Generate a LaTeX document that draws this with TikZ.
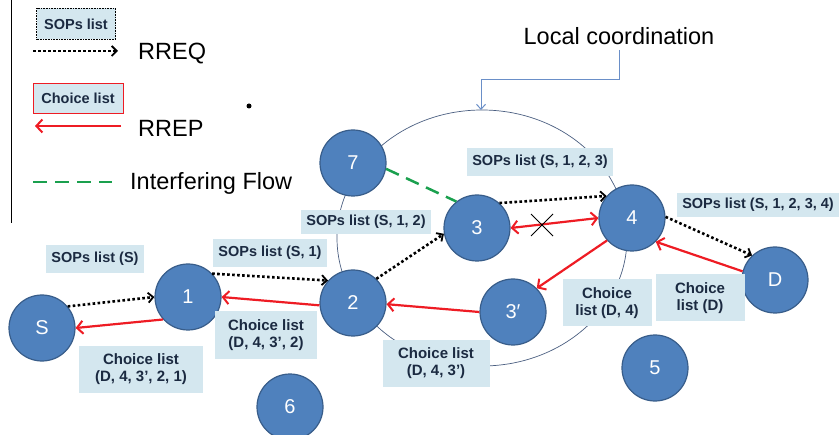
\documentclass[tikz,border=0pt]{standalone}
\usepackage{fontspec}
\setmainfont{Liberation Sans}
\usepackage{tikz}
\usetikzlibrary{positioning, arrows.meta}

\definecolor{nodeblue}{HTML}{4F81BD}
\definecolor{nodeedge}{HTML}{385D8A}
\definecolor{boxblue}{HTML}{D4E7EF}
\definecolor{boxtxt}{HTML}{1B2A41}
\definecolor{ringcol}{HTML}{4A5E80}
\definecolor{lcblue}{HTML}{6A8FC8}
\definecolor{rred}{HTML}{EE1C24}
\definecolor{flowgreen}{HTML}{1AA04E}

\begin{document}
\begin{tikzpicture}[x=1pt, y=-1pt,
    hop/.style={circle, draw=nodeedge, line width=1.2pt, fill=nodeblue, minimum size=66pt,
        inner sep=0pt, text=white, font=\fontsize{20}{22}\selectfont},
    sops/.style={fill=boxblue, text=boxtxt, font=\fontsize{14.5}{17}\selectfont\bfseries,
        inner xsep=5pt, inner ysep=7pt},
    choice/.style={sops, align=center, minimum height=47pt, font=\fontsize{15}{17}\selectfont\bfseries},
    rreq/.style={line width=2.6pt, dash pattern=on 2.6pt off 2.4pt,
        -{Straight Barb[length=5pt, width=10pt, line width=1.8pt]}},
    redtip/.tip={Straight Barb[length=6pt, width=13pt, line width=2pt]},
    rrep/.style={draw=rred, line width=2.2pt, -redtip},
    interf/.style={draw=flowgreen, line width=2.5pt, dash pattern=on 14pt off 8pt},
    legtext/.style={anchor=base west, inner sep=0pt, font=\fontsize{23.5}{26}\selectfont}
]
\useasboundingbox (0,0) rectangle (840,435);

% local coordination area
\draw[ringcol, line width=0.7pt] (482,238) ellipse [x radius=145pt, y radius=128pt];
\draw[line width=1pt] (11,0) -- (11,223);

% legend
\node[sops, draw=black, densely dotted, line width=0.6pt, minimum width=79pt, minimum height=31pt] (legsops) at (76,24) {SOPs list};
\coordinate (qa) at (33,51);
\coordinate (qb) at (118,51);
\draw[rreq] (qa) -- (qb);
\node[legtext] (rreqtxt) at (138,60) {RREQ};
\node[sops, draw=rred, line width=0.9pt, minimum width=90pt, minimum height=30pt] (legchoice) at (78,98) {Choice list};
\coordinate (pa) at (121,126);
\coordinate (pb) at (35,126);
\draw[rrep] (pa) -- (pb);
\node[legtext] (rreptxt) at (138,137) {RREP};
\coordinate (ga) at (33,182);
\coordinate (gb) at (112,182);
\draw[interf] (ga) -- (gb);
\node[legtext] (flowtxt) at (130,190) {Interfering Flow};
\fill (249,106) circle (2.5pt);

% nodes
\node[hop] (nS) at (42,328) {S};
\node[hop] (n1) at (188,297) {1};
\node[hop] (n2) at (353,303) {2};
\node[hop] (n3) at (477,228) {3};
\node[hop] (n3p) at (513,312) {3′};
\node[hop] (n4) at (632,218) {4};
\node[hop] (nD) at (775,280) {D};
\node[hop] (n5) at (655,368) {5};
\node[hop] (n6) at (290,407) {6};
\node[hop] (n7) at (353,163) {7};

\node[anchor=south, inner sep=5pt, font=\fontsize{23.5}{26}\selectfont] (lc) at (619,50) {Local coordination};
\coordinate (ringtop) at (481,110);
\draw[lcblue, line width=1pt, -{Straight Barb[length=5pt, width=9pt]}] (lc.south) -- ++(0,30) -| (ringtop);

% RREQ
\draw[rreq] (nS.40) -- (n1.180);
\draw[rreq] (n1.44) -- (n2.138);
\draw[rreq] (n2.46) -- (n3.190);
\draw[rreq] (n3.48) -- (n4.139);
\draw[rreq] (n4.2) -- (nD.133);

% RREP
\draw[rrep] (nD.165) -- (n4.-45);
\draw[rrep] (n4.-138) -- (n3p.45);
\draw[rrep] (n3p.180) -- (n2.-2);
\draw[rrep] (n2.184) -- (n1.0);
\draw[rrep] (n1.-138) -- (nS.0);
\draw[rrep, redtip-redtip] (n3.0) -- (n4.180);
\draw[line width=0.9pt] (531,214) -- (553,236) (531,236) -- (553,214);

% interfering flow
\draw[interf] (n7.-10) -- (n3.128);

% lists
\node[sops] (sopsS) at (95,259) {SOPs list (S)};
\node[sops] (sops1) at (270,253) {SOPs list (S, 1)};
\node[sops, inner ysep=5.5pt] (sops12) at (366,222) {SOPs list (S, 1, 2)};
\node[sops] (sops123) at (540,162) {SOPs list (S, 1, 2, 3)};
\node[sops, inner ysep=5pt] (sops1234) at (758,205) {SOPs list (S, 1, 2, 3, 4)};
\node[choice, minimum width=124pt] (ch1) at (141,369) {Choice list\\(D, 4, 3’, 2, 1)};
\node[choice, minimum width=102pt] (ch2) at (266,335) {Choice list\\(D, 4, 3’, 2)};
\node[choice, minimum width=107pt] (ch3) at (436,363) {Choice list\\(D, 4, 3’)};
\node[choice, minimum width=89pt] (ch4) at (607,303) {Choice\\list (D, 4)};
\node[choice, minimum width=89pt] (chD) at (700,298) {Choice\\list (D)};
\end{tikzpicture}
\end{document}
